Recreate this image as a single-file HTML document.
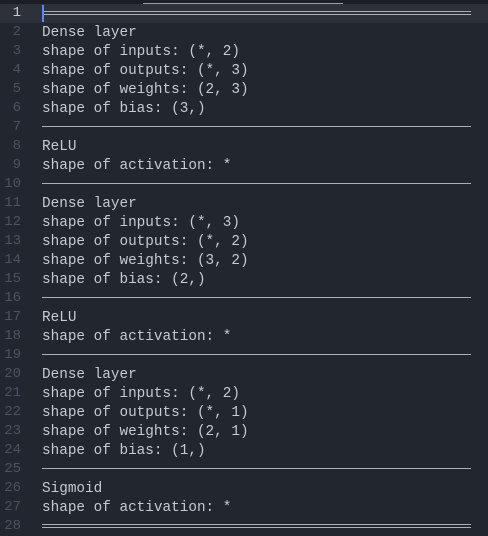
<!DOCTYPE html>
<html><head><meta charset="utf-8"><style>
html,body{margin:0;padding:0;width:488px;height:536px;overflow:hidden;background:#22262e;}
.top{position:absolute;left:0;top:0;width:488px;height:4px;background:#1b1e24;}
.tab{position:absolute;left:143px;top:3px;width:200px;height:1px;background:#9aa0aa;}
.cur{position:absolute;left:0;top:4px;width:488px;height:19px;background:#2c313a;}
.caret{position:absolute;left:42px;top:5px;width:2px;height:17px;background:#528bff;}
.g{position:absolute;left:0;top:4px;width:21px;text-align:right;font:14px "Liberation Mono",monospace;color:#4b5263;line-height:19px;}
.code{position:absolute;left:42px;top:5px;font:14.35px "Liberation Mono",monospace;color:#c5cad3;line-height:19px;white-space:pre;margin:0;}
.h{position:absolute;left:42px;width:429px;height:1px;background:#aab0ba;}
</style></head><body>
<div class="top"></div><div class="tab"></div>
<div class="cur"></div>
<div class="g"><span style="color:#c5cad3">1</span><br>2<br>3<br>4<br>5<br>6<br>7<br>8<br>9<br>10<br>11<br>12<br>13<br>14<br>15<br>16<br>17<br>18<br>19<br>20<br>21<br>22<br>23<br>24<br>25<br>26<br>27<br>28</div>
<pre class="code"> 
Dense layer
shape of inputs: (*, 2)
shape of outputs: (*, 3)
shape of weights: (2, 3)
shape of bias: (3,)
 
ReLU
shape of activation: *
 
Dense layer
shape of inputs: (*, 3)
shape of outputs: (*, 2)
shape of weights: (3, 2)
shape of bias: (2,)
 
ReLU
shape of activation: *
 
Dense layer
shape of inputs: (*, 2)
shape of outputs: (*, 1)
shape of weights: (2, 1)
shape of bias: (1,)
 
Sigmoid
shape of activation: *
</pre>
<div class="h" style="top:11px"></div><div class="h" style="top:14px"></div>
<div class="h" style="top:126px"></div>
<div class="h" style="top:183px"></div>
<div class="h" style="top:297px"></div>
<div class="h" style="top:354px"></div>
<div class="h" style="top:468px"></div>
<div class="h" style="top:524px"></div><div class="h" style="top:527px"></div>
<div class="caret"></div>
</body></html>
